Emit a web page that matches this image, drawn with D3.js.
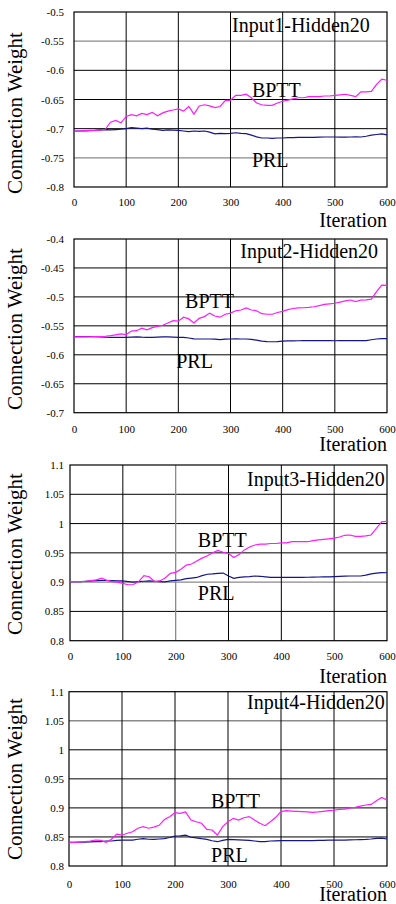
<!DOCTYPE html>
<html>
<head>
<meta charset="utf-8">
<script src="https://cdn.jsdelivr.net/npm/d3@7"></script>
<style>
  body { margin: 0; background: #fff; }
  svg { display: block; }
  svg text { font-family: "Liberation Serif", "Times New Roman", serif; fill: #000; }
</style>
</head>
<body>
<svg id="chart" width="396" height="904"></svg>
<script>
// iterations sampled every 10 steps
const iterations = [0,10,20,30,40,50,60,70,80,90,100,110,120,130,140,150,160,170,180,190,
    200,210,220,230,240,250,260,270,280,290,300,310,320,330,340,350,360,370,380,390,
    400,410,420,430,440,450,460,470,480,490,500,510,520,530,540,550,560,570,580,590,600];
const xTicks = [0, 100, 200, 300, 400, 500, 600];

// Input1-Hidden20
const bptt1 = [-0.704,-0.704,-0.7035,-0.703,-0.703,-0.7025,-0.701,-0.689,-0.686,-0.690,
    -0.679,-0.676,-0.678,-0.674,-0.676,-0.672,-0.678,-0.673,-0.670,-0.668,
    -0.666,-0.670,-0.662,-0.675,-0.661,-0.659,-0.661,-0.664,-0.662,-0.652,
    -0.651,-0.643,-0.643,-0.641,-0.647,-0.656,-0.659,-0.660,-0.660,-0.656,
    -0.653,-0.651,-0.649,-0.647,-0.647,-0.645,-0.645,-0.645,-0.644,-0.644,
    -0.643,-0.642,-0.641,-0.643,-0.645,-0.637,-0.637,-0.636,-0.624,-0.615,-0.617];
const prl1 = [-0.704,-0.704,-0.704,-0.7035,-0.703,-0.702,-0.7015,-0.702,-0.7015,-0.701,
    -0.700,-0.698,-0.699,-0.700,-0.699,-0.701,-0.7015,-0.703,-0.702,-0.7025,
    -0.703,-0.704,-0.705,-0.704,-0.7045,-0.704,-0.706,-0.709,-0.708,-0.7085,
    -0.708,-0.707,-0.708,-0.7085,-0.711,-0.714,-0.716,-0.716,-0.7165,-0.716,
    -0.716,-0.7155,-0.7155,-0.715,-0.715,-0.715,-0.7148,-0.7145,-0.7143,-0.7143,
    -0.7143,-0.7145,-0.7145,-0.7143,-0.714,-0.7143,-0.713,-0.711,-0.710,-0.709,-0.7105];
const yTicks1 = [-0.8, -0.75, -0.7, -0.65, -0.6, -0.55, -0.5];

// Input2-Hidden20
const bptt2 = [-0.569,-0.569,-0.569,-0.5688,-0.5687,-0.5685,-0.568,-0.567,-0.5655,-0.564,
    -0.565,-0.559,-0.5584,-0.554,-0.557,-0.553,-0.551,-0.549,-0.545,-0.541,
    -0.542,-0.535,-0.538,-0.545,-0.537,-0.534,-0.528,-0.533,-0.535,-0.530,
    -0.528,-0.524,-0.5226,-0.519,-0.5226,-0.524,-0.529,-0.530,-0.530,-0.527,
    -0.525,-0.522,-0.520,-0.519,-0.5187,-0.518,-0.517,-0.515,-0.5128,-0.512,
    -0.511,-0.509,-0.507,-0.5054,-0.508,-0.5054,-0.505,-0.504,-0.491,-0.4795,-0.480];
const prl2 = [-0.5687,-0.5687,-0.5687,-0.5687,-0.5688,-0.569,-0.5695,-0.5698,-0.570,-0.570,
    -0.570,-0.5695,-0.569,-0.5695,-0.5698,-0.5698,-0.5695,-0.5692,-0.5692,-0.5695,
    -0.5698,-0.570,-0.571,-0.5725,-0.5727,-0.5727,-0.5727,-0.573,-0.5738,-0.573,
    -0.5727,-0.5725,-0.5727,-0.5727,-0.5735,-0.5748,-0.5765,-0.5773,-0.5775,-0.5773,
    -0.5765,-0.576,-0.5758,-0.5757,-0.5756,-0.5756,-0.5756,-0.5756,-0.5756,-0.5756,
    -0.5757,-0.5756,-0.5756,-0.5756,-0.5756,-0.5756,-0.5755,-0.574,-0.5727,-0.5722,-0.572];
const yTicks2 = [-0.7, -0.65, -0.6, -0.55, -0.5, -0.45, -0.4];

// Input3-Hidden20
const bptt3 = [0.9007,0.9007,0.901,0.9015,0.9025,0.9038,0.907,0.903,0.901,0.900,
    0.898,0.8955,0.896,0.901,0.911,0.9093,0.901,0.902,0.907,0.915,
    0.9167,0.922,0.929,0.931,0.936,0.941,0.945,0.950,0.954,0.951,
    0.949,0.942,0.947,0.955,0.960,0.9634,0.965,0.965,0.966,0.966,
    0.967,0.967,0.969,0.969,0.969,0.969,0.971,0.972,0.973,0.974,
    0.975,0.977,0.980,0.9805,0.978,0.978,0.979,0.9805,0.992,1.003,1.004];
const prl3 = [0.9007,0.9007,0.901,0.9015,0.902,0.9025,0.903,0.9028,0.9025,0.902,
    0.902,0.901,0.900,0.901,0.9015,0.902,0.9015,0.901,0.9005,0.902,
    0.903,0.904,0.906,0.907,0.908,0.911,0.9135,0.914,0.915,0.9155,
    0.9105,0.9065,0.908,0.909,0.9095,0.9105,0.910,0.909,0.908,0.908,
    0.908,0.908,0.908,0.908,0.908,0.9083,0.9085,0.9088,0.909,0.909,
    0.9095,0.910,0.9103,0.9105,0.9105,0.9105,0.912,0.914,0.9155,0.9164,0.916];
const yTicks3 = [0.8, 0.85, 0.9, 0.95, 1, 1.05, 1.1];

// Input4-Hidden20
const bptt4 = [0.8408,0.8408,0.841,0.8418,0.843,0.8447,0.844,0.8408,0.846,0.855,
    0.853,0.8563,0.859,0.865,0.8677,0.865,0.867,0.870,0.880,0.8848,
    0.8917,0.8906,0.893,0.8792,0.8762,0.8735,0.863,0.862,0.8533,0.8677,
    0.8762,0.882,0.879,0.883,0.885,0.879,0.8735,0.8694,0.8762,0.8838,
    0.8935,0.8952,0.8945,0.894,0.8935,0.893,0.8924,0.893,0.894,0.8952,
    0.896,0.8976,0.898,0.900,0.901,0.903,0.905,0.906,0.9124,0.918,0.9136];
const prl4 = [0.8408,0.8408,0.841,0.8412,0.8415,0.8418,0.842,0.843,0.843,0.844,
    0.8447,0.8447,0.8447,0.846,0.847,0.846,0.8458,0.8465,0.847,0.849,
    0.8516,0.852,0.853,0.8495,0.8485,0.847,0.8458,0.8435,0.8418,0.844,
    0.8459,0.8455,0.845,0.8445,0.844,0.843,0.8418,0.842,0.843,0.8433,
    0.8436,0.8436,0.8436,0.8436,0.8436,0.8436,0.8437,0.844,0.8442,0.8445,
    0.8447,0.8447,0.8447,0.845,0.8452,0.8455,0.8458,0.8465,0.8476,0.848,0.8465];
const yTicks4 = [0.8, 0.85, 0.9, 0.95, 1, 1.05, 1.1];

const titles = ['Input1-Hidden20', 'Input2-Hidden20', 'Input3-Hidden20', 'Input4-Hidden20'];

// layout per panel (pixels) + where labels sit (in data units)
const panels = [
    { title: titles[0], bptt: bptt1, prl: prl1, yTicks: yTicks1,
      left: 74, top: 12, bottom: 187, xPad: 11, iterY: 227, yLabelY: 113,
      titleAt: [567, -0.5343], bpttAt: [341, -0.6457], prlAt: [341, -0.7657],
      grayY: [-0.55, -0.75], grayX: [] },
    { title: titles[1], bptt: bptt2, prl: prl2, yTicks: yTicks2,
      left: 74, top: 239, bottom: 412.7, xPad: 13, iterY: 451, yLabelY: 329,
      titleAt: [583, -0.4328], bpttAt: [213, -0.519], prlAt: [196, -0.6228],
      grayY: [], grayX: [] },
    { title: titles[2], bptt: bptt3, prl: prl3, yTicks: yTicks3,
      left: 70, top: 465, bottom: 640.7, xPad: 12, iterY: 683, yLabelY: 554,
      titleAt: [596, 1.064], bpttAt: [242, 0.96], prlAt: [242, 0.8695],
      grayY: [0.9], grayX: [200] },
    { title: titles[3], bptt: bptt4, prl: prl4, yTicks: yTicks4,
      left: 69, top: 691.7, bottom: 866, xPad: 14, iterY: 901, yLabelY: 779,
      titleAt: [596, 1.070], bpttAt: [268, 0.8998], prlAt: [268, 0.8069],
      grayY: [1.05], grayX: [] }
];

const svg = d3.select('#chart');
const right = 387;
const serif = '"Liberation Serif", "Times New Roman", serif';
const fmt = d => String(+d.toFixed(2));

panels.forEach(p => {
    const x = d3.scaleLinear().domain([0, 600]).range([p.left, right]);
    const y = d3.scaleLinear().domain(d3.extent(p.yTicks)).range([p.bottom, p.top]);
    const g = svg.append('g');

    // grid
    g.append('g').selectAll('line')
            .data(p.yTicks.slice(1, -1))
            .enter().append('line')
            .attr('x1', p.left).attr('x2', right)
            .attr('y1', d => y(d)).attr('y2', d => y(d))
            .attr('stroke', d => p.grayY.includes(d) ? '#8a8a8a' : '#000')
            .attr('stroke-width', d => p.grayY.includes(d) ? 1.3 : 1);
    g.append('g').selectAll('line')
            .data(xTicks.slice(1, -1))
            .enter().append('line')
            .attr('y1', p.top).attr('y2', p.bottom)
            .attr('x1', d => x(d)).attr('x2', d => x(d))
            .attr('stroke', d => p.grayX.includes(d) ? '#8a8a8a' : '#000')
            .attr('stroke-width', d => p.grayX.includes(d) ? 1.3 : 1);

    // frame
    g.append('rect')
            .attr('x', p.left).attr('y', p.top)
            .attr('width', right - p.left).attr('height', p.bottom - p.top)
            .attr('fill', 'none').attr('stroke', '#000').attr('stroke-width', 1.2);

    // axes (labels only)
    const yAxis = g.append('g')
            .attr('transform', `translate(${p.left},0)`)
            .call(d3.axisLeft(y).tickValues(p.yTicks).tickFormat(fmt)
                    .tickSize(0).tickPadding(p.left - 64));
    const xAxis = g.append('g')
            .attr('transform', `translate(0,${p.bottom})`)
            .call(d3.axisBottom(x).tickValues(xTicks).tickFormat(d3.format('d'))
                    .tickSize(0).tickPadding(p.xPad));
    [yAxis, xAxis].forEach(a => {
        a.attr('font-family', null);
        a.select('.domain').remove();
        a.selectAll('text')
                .style('font-family', serif)
                .style('font-size', '11px')
                .attr('fill', '#000');
    });

    // series
    const line = vals => d3.line()
            .x((d, i) => x(iterations[i]))
            .y(d => y(d))(vals);
    g.append('path').attr('d', line(p.prl))
            .attr('fill', 'none').attr('stroke', '#14148c').attr('stroke-width', 1.2);
    g.append('path').attr('d', line(p.bptt))
            .attr('fill', 'none').attr('stroke', '#ff1aff').attr('stroke-width', 1.2);

    // texts
    const label = (px, py, txt, size) => g.append('text')
            .attr('x', px).attr('y', py)
            .style('font-family', serif).style('font-size', size + 'px')
            .text(txt);
    label(x(p.titleAt[0]), y(p.titleAt[1]), p.title, 20).attr('text-anchor', 'end');
    label(x(p.bpttAt[0]), y(p.bpttAt[1]), 'BPTT', 20);
    label(x(p.prlAt[0]), y(p.prlAt[1]), 'PRL', 20);
    label(right, p.iterY, 'Iteration', 20).attr('text-anchor', 'end');
    label(0, 0, 'Connection Weight', 21)
            .attr('transform', `translate(22,${p.yLabelY}) rotate(-90)`)
            .attr('text-anchor', 'middle');
});
</script>
</body>
</html>
